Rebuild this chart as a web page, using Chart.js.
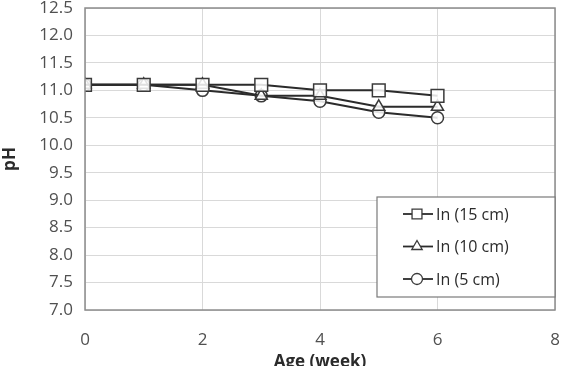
<!DOCTYPE html>
<html>
<head>
<meta charset="utf-8">
<script src="https://cdn.jsdelivr.net/npm/chart.js@4"></script>
<style>
  html, body { margin: 0; padding: 0; background: #fff; overflow: hidden; }
  #wrap { width: 568px; height: 366px; overflow: hidden; }
  /* canvas is a bit taller than the window so the x title gets clipped like the source image */
  #chart { display: block; margin-top: -12px; }
</style>
</head>
<body>
<div id="wrap"><canvas id="chart" width="568" height="384"></canvas></div>
<script>
const weeks  = [0, 1, 2, 3, 4, 5, 6];
const ph15cm = [11.1, 11.1, 11.1, 11.1, 11.0, 11.0, 10.9];
const ph10cm = [11.1, 11.1, 11.1, 10.9, 10.9, 10.7, 10.7];
const ph5cm  = [11.1, 11.1, 11.0, 10.9, 10.8, 10.6, 10.5];
const seriesNames = ['In (15 cm)', 'In (10 cm)', 'In (5 cm)'];

const FONT = "'Open Sans', 'Liberation Sans', sans-serif";
const INK  = '#2b2b2b';
const TICK = '#505050';
const SHIFT = 12;

function mkSeries(label, values, style, radius) {
    return {
        label,
        data:                 weeks.map((w, i) => ({ x: w, y: values[i] })),
        borderColor:          INK,
        borderWidth:          2,
        pointStyle:           style,
        pointRadius:          radius,
        pointBackgroundColor: 'rgba(255,255,255,0.85)',
        pointBorderColor:     '#3a3a3a',
        pointBorderWidth:     1.5,
        tension:              0,
    };
}

// legend marker sizes are a bit smaller than the ones on the lines
const legendRadius = { rect: 7, triangle: 6, circle: 5.5 };

// plot frame + legend box drawn inside the plot, like the spreadsheet original
const framePlugin = {
    id: 'frame',
    afterDraw(chart) {
        const { ctx, chartArea: a } = chart;
        ctx.save();
        ctx.strokeStyle = '#8c8c8c';
        ctx.lineWidth = 1.5;
        ctx.strokeRect(a.left, a.top, a.right - a.left, a.bottom - a.top);

        const bx = 377, by = 197 + SHIFT, bw = 178, bh = 100;
        ctx.fillStyle = '#fff';
        ctx.fillRect(bx, by, bw, bh);
        ctx.strokeStyle = '#7a7a7a';
        ctx.lineWidth = 1.2;
        ctx.strokeRect(bx, by, bw, bh);

        ctx.font = `16px ${FONT}`;
        ctx.textBaseline = 'middle';
        chart.data.datasets.forEach((ds, i) => {
            const y = by + 17 + i * 32.5;
            ctx.strokeStyle = INK;
            ctx.lineWidth = 1.8;
            ctx.beginPath();
            ctx.moveTo(403, y);
            ctx.lineTo(433, y);
            ctx.stroke();
            ctx.fillStyle = '#fff';
            ctx.strokeStyle = '#3a3a3a';
            ctx.lineWidth = 1.3;
            Chart.helpers.drawPoint(ctx, {
                pointStyle: ds.pointStyle,
                radius: legendRadius[ds.pointStyle],
                borderWidth: 1.3,
            }, 417, y);
            ctx.fillStyle = INK;
            ctx.fillText(ds.label, 436, y + 1);
        });
        ctx.restore();
    },
};

new Chart(document.getElementById('chart'), {
    type: 'line',
    data: {
        datasets: [
            mkSeries(seriesNames[0], ph15cm, 'rect', 9),
            mkSeries(seriesNames[1], ph10cm, 'triangle', 7),
            mkSeries(seriesNames[2], ph5cm, 'circle', 6),
        ],
    },
    options: {
        responsive: false,
        animation: false,
        layout: { padding: { left: 0, right: 13, top: 20, bottom: 0 } },
        plugins: { legend: { display: false }, tooltip: { enabled: false } },
        scales: {
            x: {
                type: 'linear',
                min: 0, max: 8,
                ticks: { stepSize: 2, color: TICK, font: { family: FONT, size: 17 }, padding: 20 },
                grid: { color: '#d9d9d9', lineWidth: 1, drawTicks: false },
                border: { display: false },
                title: { display: true, text: 'Age (week)', color: INK, font: { family: FONT, size: 17, weight: 'bold' }, padding: 0 },
                afterFit: s => { s.height = 62; s.paddingLeft = 0; s.paddingRight = 0; },
            },
            y: {
                min: 7, max: 12.5,
                ticks: { stepSize: 0.5, color: TICK, font: { family: FONT, size: 17 }, padding: 12, callback: v => v.toFixed(1) },
                grid: { color: '#d9d9d9', lineWidth: 1, drawTicks: false },
                border: { display: false },
                title: { display: true, text: 'pH', color: INK, font: { family: FONT, size: 17, weight: 'bold' }, padding: 0 },
                afterFit: s => { s.width = 85; s.paddingTop = 0; s.paddingBottom = 0; },
            },
        },
    },
    plugins: [framePlugin],
});
</script>
</body>
</html>
